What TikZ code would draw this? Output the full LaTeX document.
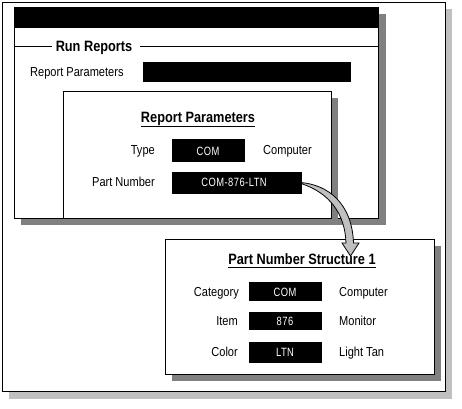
\documentclass[tikz,border=0pt]{standalone}
\usepackage{fontspec}
\setmainfont{Liberation Sans}[FakeStretch=0.85]
\newfontfamily\boxfont{Liberation Sans}[FakeStretch=0.78,LetterSpace=4]
\definecolor{lgray}{HTML}{C0C0C0}
\definecolor{dgray}{HTML}{808080}
\newcommand\rnode[6]{\node[rect,#6,minimum width={(#4-#2)*1pt},minimum height={(#5-#3)*1pt}] (#1) at (#2,#3) {};}
\tikzset{
  rect/.style={inner sep=0pt,outer sep=0pt,anchor=north west,line width=1pt},
  lbl/.style={inner sep=0pt,font=\fontsize{13}{15}\selectfont},
  ttl/.style={inner sep=0pt,font=\fontsize{15}{17}\selectfont\bfseries},
  val/.style={inner sep=0pt,text=white,font=\boxfont\fontsize{12}{14}\selectfont,anchor=base},
  win/.style={fill=white,draw=black},
  shd/.style={fill=dgray},
  blk/.style={fill=black,draw=black},
}
\begin{document}
\begin{tikzpicture}[x=1pt,y=-1pt]
\useasboundingbox[fill=white] (0,0) rectangle (462,408);
% outer frame
\rnode{outershadow}{9}{9}{452}{399}{fill=lgray}
\rnode{outer}{2.5}{2.5}{445}{391.5}{win}
% main window
\rnode{winshadow}{21}{14}{386}{225}{shd}
\rnode{window}{14}{7}{378}{218}{win}
\rnode{titlebar}{14}{7}{378}{27}{blk}
\node[ttl,anchor=base] (runrep) at (94,51.5) {Run Reports};
\draw[line width=1pt] (window.west |- 0,46) -- ([xshift=-4pt]runrep.west |- 0,46);
\draw[line width=1pt] ([xshift=8pt]runrep.east |- 0,46) -- (window.east |- 0,46);
\node[lbl,anchor=base west] (rplabel) at (30,76) {Report Parameters};
\rnode{rpbar}{143}{62}{350}{81}{blk}
% report parameters dialog
\rnode{dlgshadow}{70}{98}{338}{225}{shd}
\rnode{dialog}{63}{91}{331}{218}{win}
\node[ttl,anchor=base] (dlgtitle) at (198,122.5) {Report Parameters};
\draw[line width=1pt] ([yshift=-3.5pt]dlgtitle.base west) -- ([yshift=-3.5pt]dlgtitle.base east);
\node[lbl,anchor=base east] (typelbl) at (155,154.5) {Type};
\rnode{typebox}{172}{139}{244}{161}{blk}
\node[val] (typeval) at (208,155) {COM};
\node[lbl,anchor=base west] (typedesc) at (263,154.5) {Computer};
\node[lbl,anchor=base east] (pnlbl) at (155,186.5) {Part Number};
\rnode{pnbox}{172}{172}{301}{193}{blk}
\node[val] (pnval) at (234,186.5) {COM-876-LTN};
% part number structure dialog
\rnode{pnsshadow}{172}{246}{441}{381}{shd}
\rnode{pns}{165}{239}{434}{374}{win}
\node[ttl,anchor=base] (pnstitle) at (302,264) {Part Number Structure 1};
\draw[line width=1pt] ([yshift=-3.5pt]pnstitle.base west) -- ([yshift=-3.5pt]pnstitle.base east);
\node[lbl,anchor=base east] (catlbl) at (239,296) {Category};
\rnode{catbox}{249}{282}{321}{300}{blk}
\node[val] (catval) at (285,296) {COM};
\node[lbl,anchor=base west] (catdesc) at (339,296) {Computer};
\node[lbl,anchor=base east] (itemlbl) at (238,325) {Item};
\rnode{itembox}{249}{312}{321}{329}{blk}
\node[val] (itemval) at (285,325) {876};
\node[lbl,anchor=base west] (itemdesc) at (339,325) {Monitor};
\node[lbl,anchor=base east] (collbl) at (238,356.5) {Color};
\rnode{colbox}{249}{342}{321}{362}{blk}
\node[val] (colval) at (285,356.5) {LTN};
\node[lbl,anchor=base west] (coldesc) at (339,356.5) {Light Tan};
% curved arrow
\coordinate (tip) at (350.5,256);
\draw[fill=lgray,line width=0.8pt,line join=miter]
  (pnbox.east) .. controls (328,185) and (352,203) .. (353.5,243)
  -- (359,243) -- (tip) -- (342,243) -- (346,243)
  .. controls (345,214) and (330,193) .. ([yshift=-1pt]pnbox.east) -- cycle;
\end{tikzpicture}
\end{document}
